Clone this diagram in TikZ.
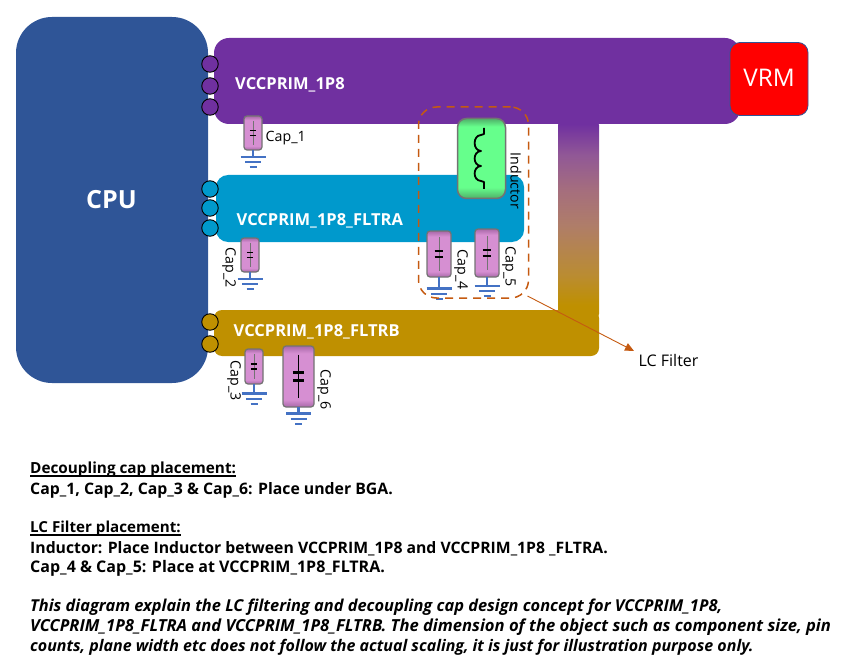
\documentclass[tikz,border=0pt]{standalone}
\usepackage{fontspec}
\setmainfont{Open Sans}
\usetikzlibrary{arrows.meta}
\definecolor{cpublue}{HTML}{2F5597}
\definecolor{purp}{HTML}{7030A0}
\definecolor{aqua}{HTML}{0099CC}
\definecolor{gold}{HTML}{BF9000}
\definecolor{capfill}{HTML}{D68FD2}
\definecolor{capdark}{HTML}{A868A8}
\definecolor{gnd}{HTML}{4472C4}
\definecolor{orng}{HTML}{C55A11}
\definecolor{grn}{HTML}{66FF8C}
\definecolor{grnd}{HTML}{4FAF68}
\definecolor{st1}{RGB}{145,88,150}
\definecolor{st2}{RGB}{165,110,125}
\definecolor{st3}{RGB}{175,125,105}
\definecolor{st4}{RGB}{186,140,50}
\pgfdeclareverticalshading{capshade}{100bp}{color(0bp)=(capdark);color(25bp)=(capdark);color(31bp)=(capfill);color(69bp)=(capfill);color(75bp)=(capdark);color(100bp)=(capdark)}
\pgfdeclareverticalshading{indshade}{100bp}{color(0bp)=(grnd);color(25bp)=(grnd);color(32bp)=(grn);color(70bp)=(grn);color(75bp)=(grnd);color(100bp)=(grnd)}
\pgfdeclareverticalshading{strapshade}{100bp}{color(0bp)=(gold);color(28bp)=(gold);color(35.8bp)=(st4);color(48.6bp)=(st3);color(57.5bp)=(st2);color(66.5bp)=(st1);color(74.5bp)=(purp);color(100bp)=(purp)}
\newsavebox{\ulbox}
\newcommand{\tightul}[1]{\sbox{\ulbox}{#1}\rlap{\rule[-2.6pt]{\wd\ulbox}{1.2pt}}\usebox{\ulbox}}
\tikzset{
  plane/.style={inner sep=0pt,outer sep=0pt,anchor=north west},
  pin/.style={circle,draw=black,line width=0.9pt,minimum size=16.5pt,inner sep=0pt},
  planelabel/.style={text=white,font=\bfseries\fontsize{16.5}{18}\selectfont,anchor=west,inner sep=0pt},
  partlabel/.style={font=\fontsize{14.2}{16}\selectfont,inner sep=0pt},
  capbody/.style={draw=black!55,line width=1.2pt,rounded corners=3pt,inner sep=0pt,outer sep=0pt,shade,shading=capshade},
  gndline/.style={draw=gnd,line width=2.4pt},
  bodytext/.style={font=\bfseries\fontsize{#1}{18}\selectfont,anchor=west,inner sep=0pt},
  italictext/.style={font=\bfseries\itshape\fontsize{#1}{18}\selectfont,anchor=west,inner sep=0pt},
}
% name, cx, top, w, h, first bar y, stem colour, plate thickness
\newcommand{\capac}[8]{%
  \node[capbody,minimum width=#4pt,minimum height=#5pt,anchor=north] (#1) at (#2,#3) {};
  \coordinate (#1g) at (#2,#6);
  \draw[gndline] (#1.south) -- (#1g);
  \draw[gndline] ([xshift=-12.5pt]#1g) -- ([xshift=12.5pt]#1g);
  \draw[gndline] ([xshift=-8pt,yshift=-5.2pt]#1g) -- ([xshift=8pt,yshift=-5.2pt]#1g);
  \draw[gndline] ([xshift=-3.5pt,yshift=-10.2pt]#1g) -- ([xshift=3.5pt,yshift=-10.2pt]#1g);
  \draw[#7,line width=1pt] ([yshift=0.36*#5pt]#1.center) -- ([yshift=-0.36*#5pt]#1.center);
  \draw[black,line width=#8pt] ([xshift=-0.18*#4pt,yshift=0.07*#5pt]#1.center) -- ([xshift=0.18*#4pt,yshift=0.07*#5pt]#1.center);
  \draw[black,line width=#8pt] ([xshift=-0.18*#4pt,yshift=-0.07*#5pt]#1.center) -- ([xshift=0.18*#4pt,yshift=-0.07*#5pt]#1.center);
}
\begin{document}
\begin{tikzpicture}[x=1pt,y=-1pt]
\useasboundingbox (0,0) rectangle (858,668);
% strap
\node[plane,minimum width=41pt,minimum height=195pt,shade,shading=strapshade,rounded corners=3pt] (strap) at (558,122) {};
% planes
\node[plane,fill=cpublue,minimum width=192pt,minimum height=366pt,rounded corners=36pt] (cpu) at (16,17) {};
\node[plane,fill=purp,minimum width=526pt,minimum height=86pt,rounded corners=15pt] (p1) at (214,38) {};
\node[plane,fill=aqua,minimum width=308pt,minimum height=67pt,rounded corners=12pt] (p2) at (216,175) {};
\node[plane,fill=gold,minimum width=385pt,minimum height=46pt,rounded corners=8pt] (p3) at (214,310) {};
\node[plane,fill=red,draw=cpublue,line width=0.8pt,minimum width=78pt,minimum height=73pt,rounded corners=10pt,text=white] (vrm) at (730,42.5) {};
\node[text=white,font=\fontsize{24.3}{26}\selectfont,inner sep=0pt] (vrmt) at (769,78) {VRM};
\node[text=white,font=\bfseries\fontsize{25}{27}\selectfont,inner sep=0pt] (cput) at (111.5,199.5) {CPU};
% pins
\foreach \n/\y in {a/64,b/86,c/107}{\node[pin,fill=purp] (pin\n) at (210,\y) {};}
\foreach \n/\y in {d/189,e/208,f/228}{\node[pin,fill=aqua] (pin\n) at (210,\y) {};}
\foreach \n/\y in {g/322,h/344}{\node[pin,fill=gold] (pin\n) at (210,\y) {};}
% plane labels
\node[planelabel] (l1) at (235,85) {VCCPRIM\_1P8};
\node[planelabel] (l2) at (236.5,221) {VCCPRIM\_1P8\_FLTRA};
\node[planelabel] (l3) at (233.5,332) {VCCPRIM\_1P8\_FLTRB};
% caps
\capac{c1}{253}{116}{18}{34}{157}{black!55}{1.6}
\capac{c2}{250}{238}{18}{34}{279}{black!55}{1.6}
\capac{c3}{254}{349}{18}{35}{393.5}{black!55}{1.6}
\capac{c4}{439}{231}{24}{46}{288.5}{black!55}{2.2}
\capac{c5}{487}{229}{24}{48}{286}{black!55}{2.2}
\capac{c6}{298.5}{346}{31}{61}{413.5}{black}{3}
% inductor
\node[plane,draw=black!55,line width=1.5pt,minimum width=48pt,minimum height=80pt,rounded corners=9pt,shade,shading=indshade] (ind) at (457.5,118.5) {};
\draw[black,line width=1.8pt,line join=round] (484,128) -- (484,134) -- (481,135)
   .. controls (472.5,135.5) and (472.5,150.5) .. (481,151)
   .. controls (472.5,151.5) and (472.5,165.5) .. (481,166)
   .. controls (472.5,166.5) and (472.5,180.5) .. (481,181)
   -- (484,182) -- (484,189);
% part labels
\node[partlabel,anchor=west] (t1) at (265.5,138.5) {Cap\_1};
\node[partlabel,rotate=-90] (t2) at (229,268) {Cap\_2};
\node[partlabel,rotate=-90] (t3) at (234,381) {Cap\_3};
\node[partlabel,rotate=-90] (t4) at (461,270) {Cap\_4};
\node[partlabel,rotate=-90] (t5) at (509,267) {Cap\_5};
\node[partlabel,rotate=-90] (t6) at (324,390) {Cap\_6};
\node[partlabel,rotate=-90] (t7) at (516,181) {Inductor};
% LC filter box
\node[plane,draw=orng,dashed,dash pattern=on 8pt off 6pt,line width=1.5pt,minimum width=110pt,minimum height=191pt,rounded corners=18pt] (lc) at (418.5,107) {};
\coordinate (lcfrom) at (527.5,296);
\coordinate (lcto) at (634,351);
\draw[orng,line width=0.9pt,-{Triangle[length=9pt,width=8pt]}] (lcfrom) -- (lcto);
\node[partlabel,anchor=west,font=\fontsize{16}{18}\selectfont] (lct) at (638.5,360) {LC Filter};
% body text
\node[bodytext=15.3] (b1) at (30,470) {\tightul{Decoupling cap placement:}};
\node[bodytext=15.8] (b2) at (30,490) {Cap\_1, Cap\_2, Cap\_3 \& Cap\_6: Place under BGA.};
\node[bodytext=15.15] (b3) at (30,529) {\tightul{LC Filter placement:}};
\node[bodytext=15.75] (b4) at (30,549) {Inductor: Place Inductor between VCCPRIM\_1P8 and VCCPRIM\_1P8 \_FLTRA.};
\node[bodytext=16] (b5) at (30,568) {Cap\_4 \& Cap\_5: Place at VCCPRIM\_1P8\_FLTRA.};
\node[italictext=16.4] (b6) at (30,607) {This diagram explain the LC filtering and decoupling cap design concept for VCCPRIM\_1P8,};
\node[italictext=16.6] (b7) at (30,627) {VCCPRIM\_1P8\_FLTRA and VCCPRIM\_1P8\_FLTRB. The dimension of the object such as component size, pin};
\node[italictext=16] (b8) at (30,647) {counts, plane width etc does not follow the actual scaling, it is just for illustration purpose only.};
\end{tikzpicture}
\end{document}
